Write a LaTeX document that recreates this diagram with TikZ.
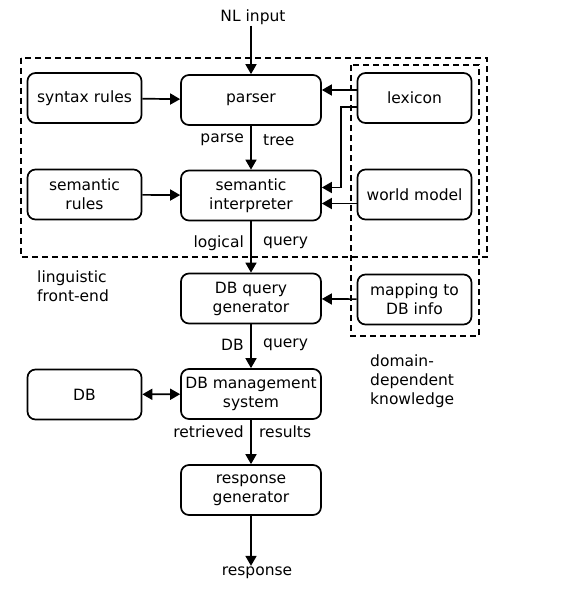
\documentclass[tikz,border=0pt]{standalone}
\usepackage{fontspec}
\setmainfont{DejaVu Sans}
\usetikzlibrary{arrows.meta}

\tikzset{
    box/.style={draw, line width=1.7pt, rounded corners=8pt, align=center,
        minimum width=140pt, minimum height=50pt, inner sep=1pt},
    sidebox/.style={box, minimum width=114pt},
    arr/.style={line width=1.7pt, -{Triangle[width=11pt,length=10pt]}},
    dblarr/.style={line width=1.7pt, {Triangle[width=11pt,length=10pt]}-{Triangle[width=11pt,length=10pt]}},
    region/.style={draw, line width=1.7pt, dash pattern=on 6pt off 4pt},
    txt/.style={inner sep=1pt, align=left}
}

\begin{document}
\begin{tikzpicture}[x=1pt, y=-1pt, font=\fontsize{15.5}{19}\selectfont]
    \useasboundingbox (0,0) rectangle (575,591);

    % dashed regions
    \draw[region] (21,58) rectangle (487,257);
    \draw[region] (351,65) rectangle (479,336);

    % main pipeline
    \node[txt] (nl) at (253,17) {NL input};
    \node[box] (parser) at (251,100) {parser};
    \node[box] (interp) at (251,195.5) {semantic\\interpreter};
    \node[box] (dbgen) at (251,298.5) {DB query\\generator};
    \node[box] (dbms) at (251,394) {DB management\\system};
    \node[box] (respgen) at (251,490) {response\\generator};
    \node[txt] (resp) at (257,573) {response};

    % side boxes
    \node[sidebox] (syntax) at (84.5,98) {syntax rules};
    \node[sidebox] (semrules) at (84.5,194.5) {semantic\\rules};
    \node[sidebox] (db) at (84.5,394.5) {DB};
    \node[sidebox] (lexicon) at (414.5,98) {lexicon};
    \node[sidebox] (world) at (414.5,194.5) {world model};
    \node[sidebox] (mapping) at (414.5,299.5) {mapping to\\DB info};

    % region labels
    \node[txt, anchor=west] (ling) at (36,286) {linguistic\\front-end};
    \node[txt, anchor=west] (domain) at (369,381) {domain-\\dependent\\knowledge};

    % vertical flow
    \draw[arr] (nl.south -| parser) -- (parser);
    \draw[arr] (parser) -- (interp);
    \draw[arr] (interp) -- (dbgen);
    \draw[arr] (dbgen) -- (dbms);
    \draw[arr] (dbms) -- (respgen);
    \draw[arr] (respgen) -- (respgen |- resp.north);

    % flow labels
    \node[txt, anchor=east] (lparse) at (245,140) {parse};
    \node[txt, anchor=west] (ltree) at (262,140) {tree};
    \node[txt, anchor=east] (llogical) at (245,243) {logical};
    \node[txt, anchor=west] (lquery) at (262,243) {query};
    \node[txt, anchor=east] (ldb) at (245,345) {DB};
    \node[txt, anchor=west] (ldbquery) at (262,345) {query};
    \node[txt, anchor=east] (lretrieved) at (245,432) {retrieved};
    \node[txt, anchor=west] (lresults) at (258,432) {results};

    % side inputs
    \draw[arr] (syntax) -- (parser);
    \draw[arr] (semrules) -- (interp);
    \draw[dblarr] (db) -- (dbms);
    \draw[arr] ([yshift=8pt]lexicon.west) -- ([yshift=8pt]lexicon.west -| parser.east);
    \draw[arr] ([yshift=-9pt]lexicon.west) -- ++(-16,0) |- ([yshift=8pt]interp.east);
    \draw[arr] ([yshift=-9pt]world.west) -- ([yshift=-9pt]world.west -| interp.east);
    \draw[arr] (mapping) -- (dbgen);
\end{tikzpicture}
\end{document}
